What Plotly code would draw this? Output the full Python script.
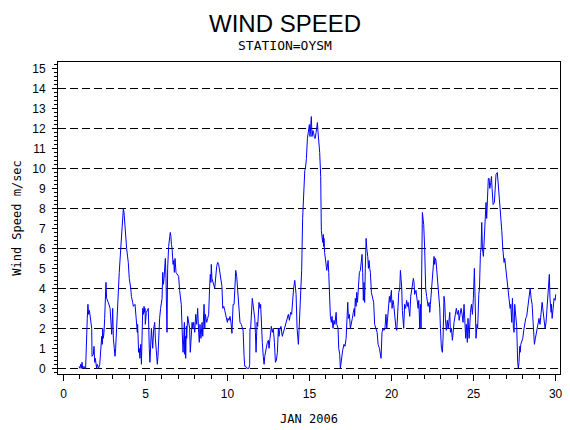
import plotly.graph_objects as go

# wind speed readings (day of month, m/sec)
day_a = [0.95, 1.0, 1.05, 1.09, 1.13, 1.17, 1.25, 1.29, 1.35, 1.39, 1.45, 1.49, 1.53, 1.58, 1.62,
         1.66, 1.72, 1.74, 1.78, 1.82, 1.86, 1.90, 1.94, 1.98, 2.02, 2.06, 2.10, 2.14, 2.21, 2.25,
         2.29, 2.33, 2.37, 2.39, 2.43, 2.47, 2.51, 2.55, 2.59, 2.63, 2.69, 2.73, 2.84, 2.88, 2.90,
         2.94, 2.98, 3.00, 3.04, 3.10, 3.14, 3.18, 3.22, 3.26, 3.30, 3.40, 3.49, 3.57, 3.61, 3.65,
         3.69, 3.73, 3.77, 3.85, 3.95, 4.01, 4.10, 4.14, 4.22, 4.26, 4.36, 4.42, 4.50, 4.52, 4.54,
         4.58, 4.62, 4.66, 4.71, 4.75, 4.83, 4.87, 4.91, 4.95, 4.97, 4.99, 5.05, 5.11, 5.17, 5.23]
wind_a = [0.1, 0.0, 0.2, 0.0, 0.3, 0.0, 0.1, 0.0, 0.0, 1.8, 2.5, 3.2, 2.7, 2.9, 2.6,
          2.3, 2.0, 0.6, 0.7, 0.7, 1.1, 0.3, 0.5, 0.1, 0.0, 0.2, 0.1, 0.0, 0.2, 0.7,
          1.0, 1.6, 1.2, 2.0, 1.5, 1.8, 2.5, 3.9, 4.3, 3.5, 3.4, 3.3, 3.0, 2.5, 2.0,
          1.7, 2.5, 3.0, 1.5, 0.6, 0.6, 1.0, 1.8, 2.6, 3.7, 4.8, 6.0, 7.3, 8.0, 8.0,
          7.8, 7.2, 6.9, 6.0, 5.3, 4.5, 4.0, 3.6, 3.3, 3.1, 3.2, 2.5, 1.8, 2.2, 1.4,
          0.8, 1.0, 0.5, 1.2, 0.2, 3.0, 2.7, 3.1, 2.8, 3.0, 2.2, 2.8, 2.9, 3.0, 1.0]

day_b = [5.27, 5.36, 5.40, 5.44, 5.50, 5.56, 5.60, 5.64, 5.72, 5.76, 5.80, 5.86, 5.92, 6.01, 6.05,
         6.09, 6.13, 6.17, 6.21, 6.25, 6.31, 6.35, 6.41, 6.51, 6.55, 6.58, 6.62, 6.68, 6.72, 6.76,
         6.80, 6.86, 6.92, 7.02, 7.08, 7.14, 7.18, 7.23, 7.25, 7.29, 7.33, 7.37, 7.39, 7.43, 7.45,
         7.49, 7.51, 7.57, 7.63, 7.69, 7.73, 7.77, 7.84, 7.88, 7.94, 8.00, 8.06, 8.12, 8.18, 8.24,
         8.28, 8.32, 8.38, 8.45, 8.49, 8.57, 8.61, 8.65, 8.73, 8.79, 8.85, 8.91, 8.95, 8.99, 9.01,
         9.05, 9.12, 9.22, 9.34, 9.40, 9.46, 9.52, 9.58, 9.66, 9.71, 9.77, 9.83, 9.91, 9.99]
wind_b = [0.3, 2.0, 1.5, 1.0, 2.0, 2.3, 1.5, 0.8, 0.2, 0.6, 1.5, 2.5, 3.0, 3.5, 4.8,
          4.2, 4.5, 5.0, 5.5, 4.5, 1.8, 5.0, 6.1, 6.8, 6.6, 6.2, 6.0, 5.2, 5.4, 4.8,
          5.5, 4.8, 4.7, 4.6, 3.9, 3.5, 3.2, 2.0, 1.2, 0.8, 1.5, 2.3, 0.7, 1.6, 0.5,
          2.1, 1.5, 2.6, 2.3, 2.0, 0.8, 1.5, 2.3, 2.0, 2.3, 1.8, 2.7, 2.2, 3.0, 1.8,
          1.3, 2.2, 1.5, 2.3, 1.6, 3.2, 2.0, 2.7, 2.3, 2.5, 2.7, 4.1, 4.7, 4.3, 5.2,
          4.5, 4.3, 4.0, 5.1, 5.3, 5.2, 4.8, 4.5, 4.1, 3.0, 3.1, 2.9, 2.5, 2.3]

day_c = [10.03, 10.09, 10.15, 10.21, 10.27, 10.34, 10.40, 10.46, 10.50, 10.56, 10.60, 10.64, 10.72,
         10.76, 10.84, 10.92, 10.95, 11.01, 11.05, 11.11, 11.17, 11.31, 11.35, 11.37, 11.41, 11.51,
         11.55, 11.62, 11.66, 11.70, 11.74, 11.80, 11.84, 11.92, 11.98, 12.02, 12.06, 12.12, 12.18,
         12.23, 12.27, 12.35, 12.43, 12.49, 12.53, 12.59, 12.63, 12.67, 12.73, 12.79, 12.86, 12.92,
         12.98, 13.04, 13.10, 13.14, 13.20, 13.26, 13.34, 13.40, 13.49, 13.57, 13.65, 13.71, 13.77,
         13.85, 13.91, 13.97, 14.03, 14.10, 14.14, 14.18, 14.24, 14.28, 14.32, 14.36, 14.42, 14.46,
         14.52, 14.58, 14.64, 14.71, 14.75, 14.81, 14.87, 14.93, 14.99, 15.03, 15.07, 15.11]
wind_c = [2.5, 2.4, 2.6, 2.3, 1.75, 3.2, 3.2, 4.3, 4.9, 4.6, 4.1, 3.8, 3.0,
          2.3, 2.2, 2.0, 1.9, 0.6, 0.1, 0.1, 0.0, 0.0, 0.2, 2.0, 2.0, 3.5,
          3.2, 3.0, 2.5, 1.8, 0.8, 2.3, 2.1, 3.3, 3.0, 3.2, 2.0, 1.3, 0.6,
          0.2, 0.6, 1.0, 1.3, 1.4, 1.0, 1.5, 1.8, 2.1, 1.8, 2.0, 1.3, 0.3,
          0.4, 0.8, 2.0, 1.6, 2.0, 2.1, 1.6, 1.8, 2.0, 2.3, 2.5, 2.7, 2.4,
          2.8, 2.7, 3.5, 4.0, 4.4, 3.9, 3.7, 2.0, 1.5, 1.2, 1.9, 3.1, 3.2,
          4.9, 7.5, 9.0, 9.9, 10.0, 10.5, 11.5, 12.0, 12.2, 11.6, 12.4, 12.6]

day_d = [15.15, 15.21, 15.29, 15.34, 15.40, 15.48, 15.52, 15.56, 15.62, 15.68, 15.72, 15.80, 15.84,
         15.86, 15.88, 15.92, 16.01, 16.05, 16.09, 16.13, 16.17, 16.21, 16.27, 16.33, 16.37, 16.43,
         16.49, 16.55, 16.62, 16.66, 16.74, 16.78, 16.84, 16.88, 16.94, 17.02, 17.10, 17.16, 17.23,
         17.27, 17.33, 17.37, 17.43, 17.49, 17.55, 17.61, 17.67, 17.73, 17.75, 17.79, 17.84, 17.88,
         17.92, 17.98, 18.04, 18.10, 18.14, 18.16, 18.20, 18.24, 18.28, 18.32, 18.36, 18.40, 18.45,
         18.49, 18.55, 18.59, 18.63, 18.67, 18.71, 18.77, 18.83, 18.91, 18.97, 19.05, 19.12, 19.18,
         19.26, 19.36, 19.42, 19.48, 19.54, 19.60, 19.66, 19.71, 19.75, 19.81, 19.87, 19.91, 19.99]
wind_d = [11.6, 11.9, 11.6, 11.5, 11.8, 12.3, 11.8, 11.5, 10.8, 9.6, 6.9, 6.3, 6.7,
          6.1, 6.5, 5.8, 5.0, 4.9, 5.1, 5.4, 4.8, 3.7, 2.6, 2.3, 2.6, 2.0,
          2.4, 2.2, 2.8, 2.2, 2.0, 1.0, 0.7, 0.0, 0.5, 0.9, 1.2, 1.1, 1.5,
          2.2, 3.3, 2.5, 2.7, 2.0, 2.2, 2.5, 2.8, 3.0, 2.6, 3.5, 3.1, 3.8,
          3.3, 4.1, 4.8, 4.9, 5.3, 5.2, 5.7, 4.8, 3.4, 4.3, 3.3, 5.0, 6.5,
          6.0, 5.6, 5.0, 5.4, 5.0, 4.8, 3.8, 3.5, 3.3, 2.2, 2.0, 1.8, 1.2,
          1.0, 0.5, 1.8, 2.0, 1.9, 2.0, 2.7, 2.0, 2.5, 3.0, 3.6, 3.3, 3.9]

day_e = [20.03, 20.09, 20.13, 20.19, 20.27, 20.32, 20.36, 20.44, 20.50, 20.54, 20.58, 20.62, 20.66,
         20.70, 20.74, 20.80, 20.86, 20.92, 20.97, 21.01, 21.05, 21.11, 21.17, 21.25, 21.33, 21.37,
         21.41, 21.49, 21.53, 21.62, 21.66, 21.72, 21.76, 21.80, 21.88, 21.92, 21.96, 22.02, 22.08,
         22.14, 22.23, 22.29, 22.33, 22.37, 22.43, 22.49, 22.55, 22.59, 22.63, 22.67, 22.71, 22.77,
         22.84, 22.90, 22.94, 22.98, 23.04, 23.10, 23.14, 23.20, 23.24, 23.28, 23.34, 23.40, 23.45,
         23.49, 23.55, 23.59, 23.65, 23.71, 23.77, 23.81, 23.89, 23.95, 24.01, 24.08, 24.12, 24.18,
         24.24, 24.30, 24.36, 24.42, 24.48, 24.52, 24.56, 24.62, 24.66, 24.73, 24.81, 24.87, 24.93, 24.99]
wind_e = [3.0, 3.4, 3.2, 2.5, 2.0, 1.9, 2.8, 3.8, 4.0, 4.9, 4.5, 4.0, 2.9,
          2.6, 2.0, 3.2, 3.0, 3.4, 3.1, 3.3, 2.8, 2.6, 3.6, 4.0, 4.5, 4.3,
          3.7, 3.9, 3.5, 3.0, 3.4, 2.0, 3.2, 2.0, 7.8, 7.5, 7.2, 6.0, 4.0,
          3.6, 3.1, 3.3, 2.8, 3.2, 3.8, 4.3, 5.0, 5.6, 5.2, 5.5, 5.4, 4.8,
          3.9, 3.7, 3.0, 2.0, 1.0, 0.8, 1.5, 3.6, 3.3, 2.5, 1.9, 2.4, 2.0,
          2.3, 2.8, 1.8, 2.0, 1.4, 2.0, 2.3, 2.7, 3.0, 2.7, 2.9, 2.4, 2.8,
          3.0, 2.7, 2.3, 3.2, 2.0, 1.5, 2.2, 1.3, 2.5, 1.5, 2.8, 3.2, 2.7, 3.5]

day_f = [25.05, 25.09, 25.15, 25.21, 25.25, 25.32, 25.36, 25.42, 25.46, 25.50, 25.54, 25.60, 25.64,
         25.70, 25.76, 25.80, 25.84, 25.90, 25.95, 25.99, 26.05, 26.09, 26.13, 26.19, 26.27, 26.33,
         26.37, 26.45, 26.51, 26.55, 26.62, 26.66, 26.72, 26.78, 26.82, 26.86, 26.90, 26.98, 27.04,
         27.10, 27.16, 27.23, 27.27, 27.33, 27.37, 27.43, 27.47, 27.51, 27.57, 27.63, 27.69, 27.73,
         27.77, 27.82, 27.84, 27.88, 27.94, 28.00, 28.06, 28.12, 28.18, 28.24, 28.30, 28.36, 28.45,
         28.51, 28.57, 28.63, 28.71, 28.77, 28.83, 28.87, 28.93, 28.99, 29.05, 29.12, 29.18, 29.22,
         29.28, 29.36, 29.42, 29.48, 29.52, 29.58, 29.62, 29.66, 29.73, 29.75, 29.79, 29.85, 29.91,
         29.97, 30.01]
wind_f = [5.0, 3.5, 1.5, 2.2, 2.0, 3.7, 4.0, 5.8, 6.0, 7.3, 6.0, 5.6, 6.3,
          7.0, 8.3, 7.5, 8.5, 9.5, 9.5, 9.0, 9.3, 9.6, 9.0, 8.2, 8.3, 9.5,
          9.7, 9.8, 9.2, 9.0, 8.3, 7.5, 6.9, 6.0, 5.5, 5.3, 5.5, 4.8, 4.2,
          3.9, 3.5, 3.0, 3.2, 2.3, 3.5, 2.0, 1.8, 3.2, 2.5, 2.1, 0.3, 0.0,
          0.3, 1.1, 0.8, 1.2, 1.4, 1.5, 1.9, 2.3, 2.5, 2.6, 3.0, 3.3, 4.0,
          3.5, 3.2, 2.3, 1.2, 1.5, 1.8, 2.0, 2.3, 2.5, 2.2, 2.8, 3.3, 3.0,
          2.5, 2.0, 2.3, 3.0, 3.2, 4.3, 4.7, 3.5, 2.8, 3.2, 2.5, 3.0, 3.5,
          3.4, 3.7]

days = day_a + day_b + day_c + day_d + day_e + day_f
wind = wind_a + wind_b + wind_c + wind_d + wind_e + wind_f

y_ticks = list(range(0, 16))
x_ticks = [0, 5, 10, 15, 20, 25, 30]

fig = go.Figure()
fig.add_trace(go.Scatter(x=days, y=wind, mode='lines',
                         line=dict(color='#0000ff', width=1), showlegend=False))

tick_font = dict(family='Liberation Sans, Arial, sans-serif', size=12, color='black')
mono = dict(family='DejaVu Sans Mono, monospace', size=12, color='black')

# the page adds an 8px body margin, so the figure is 8px smaller than the window
fig.update_layout(
    width=562, height=422,
    margin=dict(l=50, r=10, t=54, b=56, autoexpand=False),
    paper_bgcolor='white', plot_bgcolor='white',
    title=dict(text='WIND SPEED', x=0.493, xanchor='center', y=0.964, yanchor='middle',
               font=dict(family='Liberation Sans, Arial', size=24, color='black')),
    annotations=[dict(text='STATION=OYSM', xref='paper', yref='paper', x=0.452, y=1.0,
                      xanchor='center', yanchor='middle', yshift=17, showarrow=False,
                      font=dict(family='DejaVu Sans Mono, monospace', size=13, color='black'))],
    xaxis=dict(range=[-0.335, 30.27], tickvals=x_ticks, ticks='outside', ticklen=6,
               tickcolor='black', showgrid=False, zeroline=False, showline=True,
               linecolor='black', linewidth=1, mirror=True, tickfont=tick_font,
               ticklabelstandoff=3, ticklabeloverflow='allow', automargin=False,
               minor=dict(dtick=1, tick0=0, ticks='outside', ticklen=4, tickcolor='black'),
               title=dict(text='JAN 2006', standoff=14, font=mono)),
    yaxis=dict(range=[-0.285, 15.33], tickvals=y_ticks, ticks='outside', ticklen=5,
               tickcolor='black', showgrid=False, zeroline=False, showline=True,
               linecolor='black', linewidth=1, mirror=True, tickfont=tick_font,
               ticklabelstandoff=4, automargin=False,
               minor=dict(dtick=0.2, tick0=0, ticks='outside', ticklen=3, tickcolor='black'),
               title=dict(text='Wind Speed m/sec', standoff=8, font=mono)),
    yaxis2=dict(range=[-0.285, 15.33], overlaying='y', dtick=2, tick0=0, showgrid=True,
                gridcolor='black', gridwidth=1, griddash='8px,4px', zeroline=False,
                showticklabels=False, ticks='', showline=False, automargin=False),
)

# invisible trace so the grid axis gets drawn
fig.add_trace(go.Scatter(x=[days[0]], y=[wind[0]], yaxis='y2', mode='markers',
                         marker=dict(opacity=0), showlegend=False, hoverinfo='skip'))

fig.write_html("out.html")
